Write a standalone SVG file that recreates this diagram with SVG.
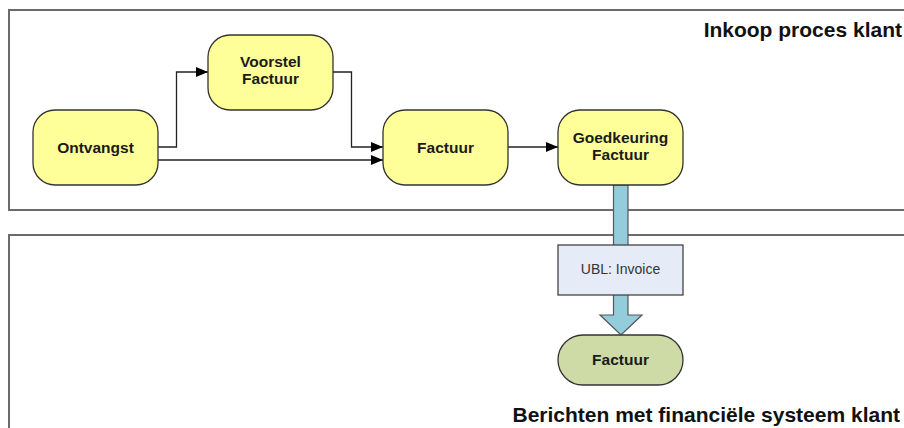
<svg xmlns="http://www.w3.org/2000/svg" width="904" height="428" viewBox="0 0 904 428">
<defs>
<style>
.lane{fill:#fff;stroke:#6b6b6b;stroke-width:2}
.title{font-family:"Liberation Sans",Arial,sans-serif;font-weight:bold;font-size:21px;fill:#111;text-anchor:end}
.node{fill:#ffff99;stroke:#333;stroke-width:1.3}
.green{fill:#cfdba7;stroke:#333;stroke-width:1.3}
.lbl{font-family:"Liberation Sans",Arial,sans-serif;font-weight:bold;font-size:15.5px;fill:#1a1a1a;text-anchor:middle}
.msg{fill:#e6ecf7;stroke:#444;stroke-width:1.3}
.msgt{font-family:"Liberation Sans",Arial,sans-serif;font-size:14px;fill:#333;text-anchor:middle}
.conn{fill:none;stroke:#222;stroke-width:1.3}
</style>
<marker id="ah" viewBox="0 0 12 10" refX="12" refY="5" markerWidth="12" markerHeight="10" markerUnits="userSpaceOnUse" orient="auto">
<path d="M0,0 L12,5 L0,10 Z" fill="#000"/>
</marker>
</defs>
<g id="lane-inkoop">
<rect class="lane" x="9" y="10" width="1000" height="200"/>
<text class="title" x="902" y="37">Inkoop proces klant</text>
</g>
<g id="lane-berichten">
<rect class="lane" x="9" y="235" width="1000" height="300"/>
<text class="title" x="900" y="422">Berichten met financiële systeem klant</text>
</g>
<g id="connectors">
<polyline class="conn" points="158,147 176.5,147 176.5,72 208,72" marker-end="url(#ah)"/>
<polyline class="conn" points="333,72 351.5,72 351.5,147 383,147" marker-end="url(#ah)"/>
<polyline class="conn" points="158,160 383,160" marker-end="url(#ah)"/>
<polyline class="conn" points="508,147 558,147" marker-end="url(#ah)"/>
<polygon id="flow-arrow" points="613.5,185 628,185 628,315 642,315 621,335 600,315 613.5,315" fill="#93cddc" stroke="#555" stroke-width="1.2"/>
</g>
<g id="node-ontvangst">
<rect class="node" x="33" y="110" width="125" height="75" rx="22"/>
<text class="lbl" x="95.5" y="153">Ontvangst</text>
</g>
<g id="node-voorstel">
<rect class="node" x="208" y="35" width="125" height="75" rx="22"/>
<text class="lbl" x="270.5" y="67">Voorstel</text>
<text class="lbl" x="270.5" y="84">Factuur</text>
</g>
<g id="node-factuur">
<rect class="node" x="383" y="110" width="125" height="75" rx="22"/>
<text class="lbl" x="445.5" y="153">Factuur</text>
</g>
<g id="node-goedkeuring">
<rect class="node" x="558" y="110" width="125" height="75" rx="22"/>
<text class="lbl" x="620.5" y="143">Goedkeuring</text>
<text class="lbl" x="620.5" y="160">Factuur</text>
</g>
<g id="msg-ubl">
<rect class="msg" x="558" y="245" width="125" height="50"/>
<text class="msgt" x="620.5" y="274">UBL: Invoice</text>
</g>
<g id="node-factuur-fin">
<rect class="green" x="558" y="335" width="125" height="50" rx="25"/>
<text class="lbl" x="620.5" y="365">Factuur</text>
</g>
</svg>
